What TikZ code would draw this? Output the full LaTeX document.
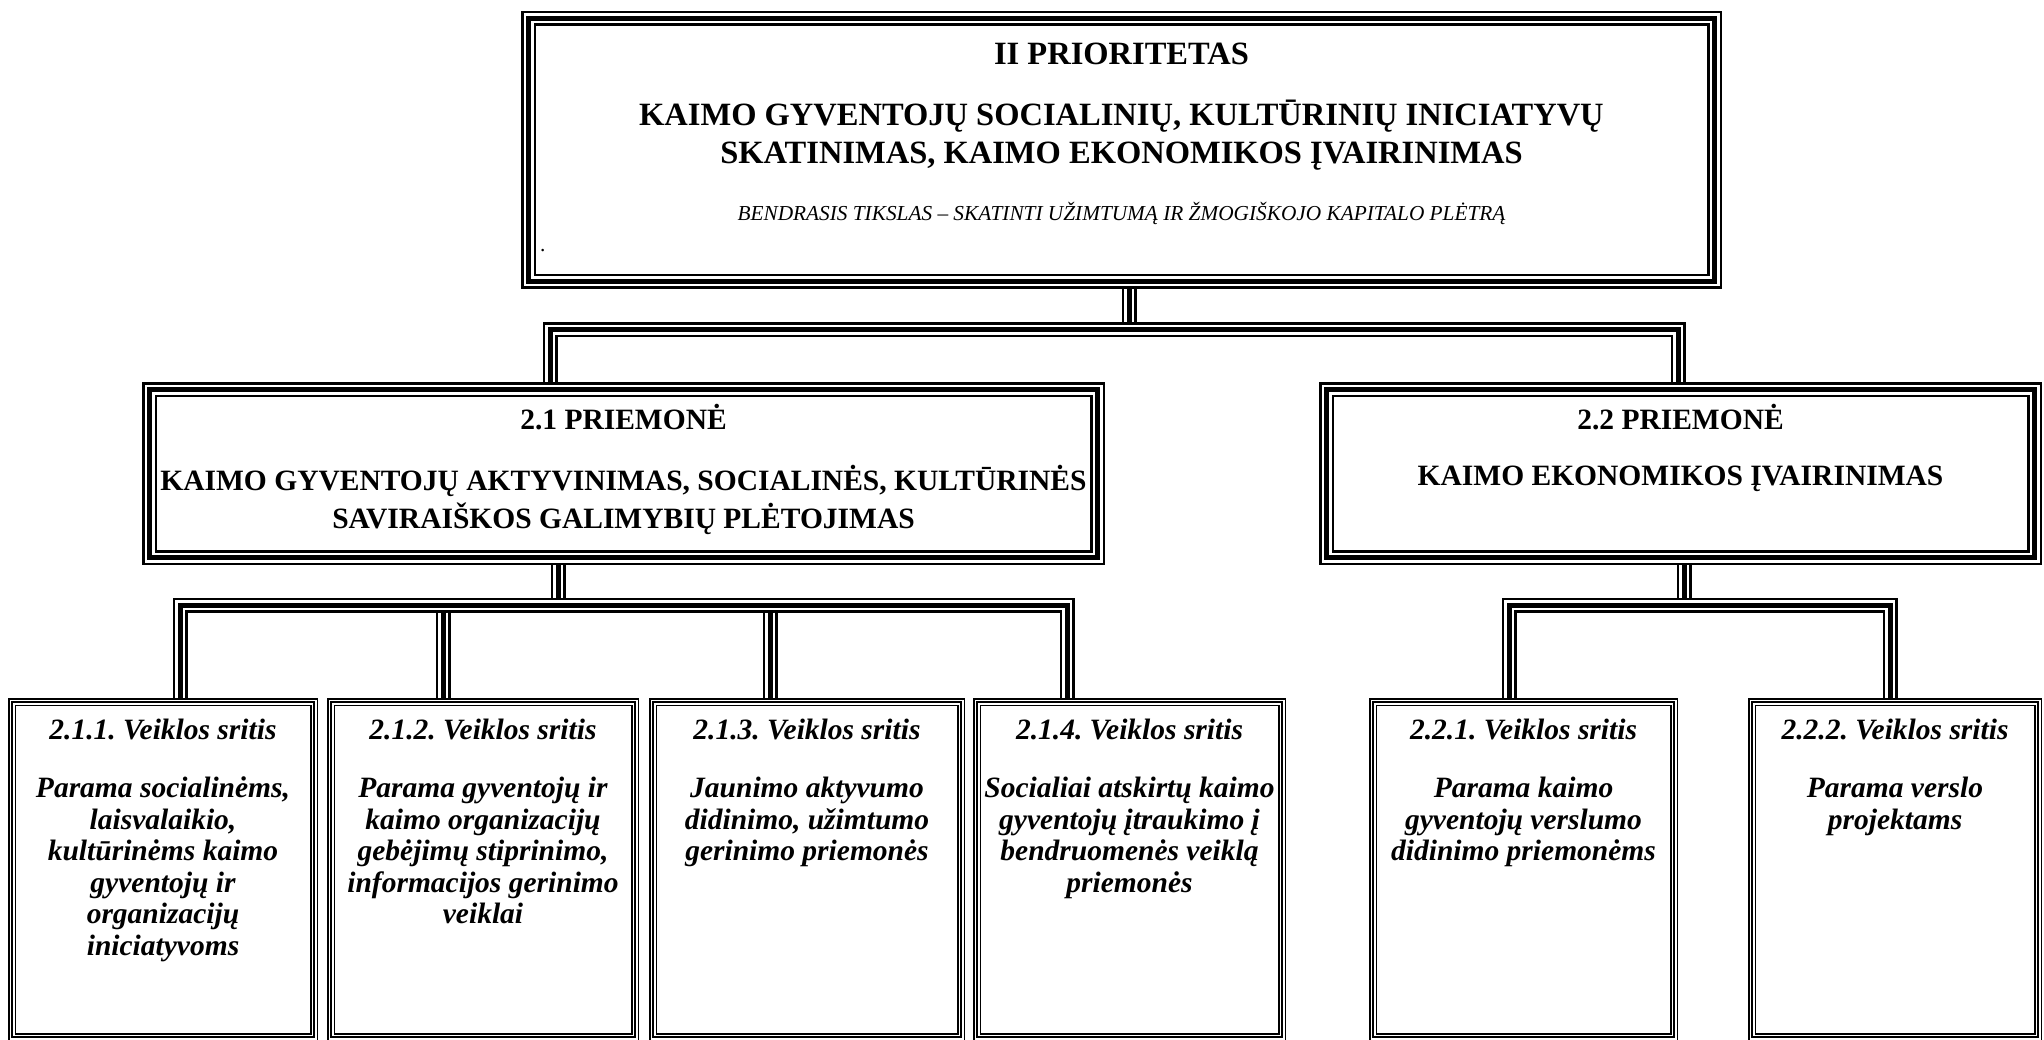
\documentclass[tikz,border=0pt]{standalone}
\usepackage{fontspec}
\setmainfont{Liberation Serif}
\usetikzlibrary{backgrounds}
\frenchspacing
\newcommand\prTitleFont{\fontsize{32.5}{38}\selectfont\bfseries}
\newcommand\prGoalFont{\fontsize{21.3}{25}\selectfont\itshape}
\newcommand\prMidFont{\fontsize{29.5}{38}\selectfont\bfseries}
\newcommand\prBotFont{\fontsize{29.5}{31.5}\selectfont\bfseries\itshape}
\tikzset{
  bigbox/.style={draw, line width=5pt, line join=miter, inner sep=0pt, outer sep=0pt,
    preaction={draw, line width=15pt}, preaction={draw=white, line width=10pt}},
  smallbox/.style={draw, line width=2pt, line join=miter, inner sep=0pt, outer sep=0pt,
    preaction={draw, line width=8pt}, preaction={draw=white, line width=5pt}},
  conn/.style={draw, line width=5pt, line join=miter,
    preaction={draw, line width=15pt}, preaction={draw=white, line width=10pt}},
  txt/.style={inner sep=0pt, outer sep=0pt, align=center, anchor=north},
}
\begin{document}
\begin{tikzpicture}[x=1pt, y=-1pt]
\useasboundingbox (0,0) rectangle (2044,1040);

% boxes
\node[bigbox, minimum width=1186pt, minimum height=263pt] (T) at (1121.5,150) {};
\node[bigbox, minimum width=948pt, minimum height=168pt] (P21) at (623.5,473.5) {};
\node[bigbox, minimum width=708pt, minimum height=168pt] (P22) at (1680.5,473.5) {};
\node[smallbox, minimum width=302pt, minimum height=335pt] (B211) at (163,869.5) {};
\node[smallbox, minimum width=304pt, minimum height=335pt] (B212) at (483,869.5) {};
\node[smallbox, minimum width=308pt, minimum height=335pt] (B213) at (807,869.5) {};
\node[smallbox, minimum width=305pt, minimum height=335pt] (B214) at (1129.5,869.5) {};
\node[smallbox, minimum width=301pt, minimum height=335pt] (B221) at (1523.5,869.5) {};
\node[smallbox, minimum width=286pt, minimum height=335pt] (B222) at (1895,869.5) {};

% junction points
\coordinate (j1) at (1129,330);
\coordinate (j1L) at (550,330);
\coordinate (j1R) at (1678,330);
\coordinate (j2) at (558,605);
\coordinate (j2a) at (180,605);
\coordinate (j2b) at (443,605);
\coordinate (j2c) at (770,605);
\coordinate (j2d) at (1067,605);
\coordinate (j3) at (1684,605);
\coordinate (j3a) at (1509,605);
\coordinate (j3b) at (1890,605);

\begin{scope}[on background layer]
  \draw[conn] (P21.north -| j1L) -- (j1L) -- (j1R) -- (P22.north -| j1R);
  \draw[conn] (T.south -| j1) -- ([yshift=7.5pt]j1);
  \draw[conn] (B211.north -| j2a) -- (j2a) -- (j2d) -- (B214.north -| j2d);
  \draw[conn] ([yshift=-7.5pt]j2b) -- (B212.north -| j2b);
  \draw[conn] ([yshift=-7.5pt]j2c) -- (B213.north -| j2c);
  \draw[conn] (P21.south -| j2) -- ([yshift=7.5pt]j2);
  \draw[conn] (B221.north -| j3a) -- (j3a) -- (j3b) -- (B222.north -| j3b);
  \draw[conn] (P22.south -| j3) -- ([yshift=7.5pt]j3);
\end{scope}

% texts
\node[txt, font=\prTitleFont] (tT) at (1121.5,32.5) {\rule{0pt}{1em}II PRIORITETAS\\[23pt]KAIMO GYVENTOJŲ SOCIALINIŲ, KULTŪRINIŲ INICIATYVŲ\\SKATINIMAS, KAIMO EKONOMIKOS ĮVAIRINIMAS};
\node[txt, font=\prGoalFont] (tGoal) at (1121.5,199.7) {\rule{0pt}{1em}BENDRASIS TIKSLAS – SKATINTI UŽIMTUMĄ IR ŽMOGIŠKOJO KAPITALO PLĖTRĄ};
\node[inner sep=0pt, anchor=base west, font=\prGoalFont\upshape] (tDot) at (540,252) {.};

\node[txt, font=\prMidFont] (tP21) at (623.5,399.5) {\rule{0pt}{1em}2.1 PRIEMONĖ\\[23pt]KAIMO GYVENTOJŲ AKTYVINIMAS, SOCIALINĖS, KULTŪRINĖS\\SAVIRAIŠKOS GALIMYBIŲ PLĖTOJIMAS};
\node[txt, font=\prMidFont] (tP22) at (1680.5,399.5) {\rule{0pt}{1em}2.2 PRIEMONĖ\\[18pt]KAIMO EKONOMIKOS ĮVAIRINIMAS};

\node[txt, font=\prBotFont] (t211) at (163,709.5) {\rule{0pt}{1em}2.1.1. Veiklos sritis\\[27pt]Parama socialinėms,\\laisvalaikio,\\kultūrinėms kaimo\\gyventojų ir\\organizacijų\\iniciatyvoms};
\node[txt, font=\prBotFont] (t212) at (483,709.5) {\rule{0pt}{1em}2.1.2. Veiklos sritis\\[27pt]Parama gyventojų ir\\kaimo organizacijų\\gebėjimų stiprinimo,\\informacijos gerinimo\\veiklai};
\node[txt, font=\prBotFont] (t213) at (807,709.5) {\rule{0pt}{1em}2.1.3. Veiklos sritis\\[27pt]Jaunimo aktyvumo\\didinimo, užimtumo\\gerinimo priemonės};
\node[txt, font=\prBotFont] (t214) at (1129.5,709.5) {\rule{0pt}{1em}2.1.4. Veiklos sritis\\[27pt]Socialiai atskirtų kaimo\\gyventojų įtraukimo į\\bendruomenės veiklą\\priemonės};
\node[txt, font=\prBotFont] (t221) at (1523.5,709.5) {\rule{0pt}{1em}2.2.1. Veiklos sritis\\[27pt]Parama kaimo\\gyventojų verslumo\\didinimo priemonėms};
\node[txt, font=\prBotFont] (t222) at (1895,709.5) {\rule{0pt}{1em}2.2.2. Veiklos sritis\\[27pt]Parama verslo\\projektams};
\end{tikzpicture}
\end{document}
